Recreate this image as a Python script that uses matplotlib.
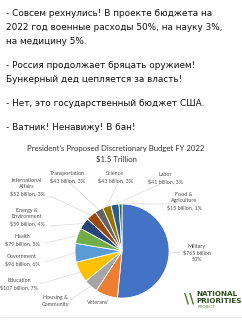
import matplotlib.pyplot as plt
import numpy as np

# данные бюджета, млрд $
categories = ['Military', "Veterans'", 'Housing &\nCommunity', 'Education', 'Government',
              'Health', 'Energy &\nEnvironment', 'International\nAffairs', 'Transportation',
              'Science', 'Labor', 'Food &\nAgriculture']
values = [765, 113, 71, 107, 96, 79, 59, 52, 43, 43, 41, 15]
labels = ['Military\n$765 billion\n50%', "Veterans'", 'Housing &\nCommunity',
          'Education\n$107 billion, 7%', 'Government\n$96 billion, 6%', 'Health\n$79 billion, 5%',
          'Energy &\nEnvironment\n$59 billion, 4%', 'International\nAffairs\n$52 billion, 3%',
          'Transportation\n$43 billion, 3%', 'Science\n$43 billion, 3%', 'Labor\n$41 billion, 3%',
          'Food &\nAgriculture\n$15 billion, 1%']
colors = ['#4472C4', '#ED7D31', '#A5A5A5', '#FFC000', '#5B9BD5', '#70AD47',
          '#264478', '#9E480E', '#636363', '#997300', '#255E91', '#43682B']

post_lines = ["- Совсем рехнулись! В проекте бюджета на",
              "2022 год военные расходы 50%, на науку 3%,",
              "на медицину 5%.",
              "- Россия продолжает бряцать оружием!",
              "Бункерный дед цепляется за власть!",
              "- Нет, это государственный бюджет США.",
              "- Ватник! Ненавижу! В бан!"]
post_y = [13, 27, 41, 65, 79, 104, 128]

W, H = 242, 320
fig = plt.figure(figsize=(W / 100, H / 100), dpi=100)
fig.patch.set_facecolor('white')


def fx(px):
    return px / W


def fy(py):
    return 1 - py / H


for line, y in zip(post_lines, post_y):
    fig.text(fx(6), fy(y), line, fontsize=6.4, family='DejaVu Sans', color='#111111',
             va='center', ha='left')

fig.text(fx(116), fy(148), "President\u2019s Proposed Discretionary Budget FY 2022",
         fontsize=5.6, family='Lato', color='#333333', ha='center', va='center')
fig.text(fx(116), fy(159), "$1.5 Trillion", fontsize=5.6, family='Lato',
         color='#333333', ha='center', va='center')

# круговая диаграмма
cx, cy, r = 122, 251, 48
ax = fig.add_axes([fx(cx - r), fy(cy + r), 2 * r / W, 2 * r / H])
wedges, _ = ax.pie(values, colors=colors, startangle=90, counterclock=False,
                   wedgeprops=dict(edgecolor='white', linewidth=0.6))
ax.set_xlim(-1.02, 1.02)
ax.set_ylim(-1.02, 1.02)
ax.set_aspect('auto')
ax.axis('off')

# позиции подписей (пиксели от верхнего левого угла)
label_pos = [(197, 253), (98, 303), (55, 301), (19, 284), (22, 260), (22, 240),
             (27, 217), (27, 187), (67, 177), (115, 177), (165, 178), (184, 201)]
line_end = [(180, 252), (98, 298), (70, 300), (40, 284), (45, 262), (45, 243),
            (50, 226), (50, 196), (70, 183), (118, 183), (160, 184), (175, 204)]

for w, lab, (lx, ly), (ex, ey) in zip(wedges, labels, label_pos, line_end):
    ang = np.deg2rad((w.theta1 + w.theta2) / 2)
    x0, y0 = np.cos(ang), np.sin(ang)
    fig.text(fx(lx), fy(ly), lab, fontsize=3.9, family='Lato', color='#505050',
             ha='center', va='center', linespacing=1.3)
    if lab == "Veterans'":
        continue
    ax.annotate('', xy=(x0, y0), xycoords='data', xytext=(fx(ex), fy(ey)),
                textcoords='figure fraction',
                arrowprops=dict(arrowstyle='-', color='#d9d9d9', lw=0.5,
                                shrinkA=0, shrinkB=0))

# логотип
fig.text(fx(184), fy(299), '\\\\', fontsize=10, fontweight='bold', color='#4f7a28',
         ha='left', va='center', family='DejaVu Sans')
fig.text(fx(196), fy(294), 'NATIONAL', fontsize=5.2, fontweight='bold', color='#2e4d1c',
         ha='left', va='center', family='DejaVu Sans')
fig.text(fx(196), fy(301), 'PRIORITIES', fontsize=5.2, fontweight='bold', color='#2e4d1c',
         ha='left', va='center', family='DejaVu Sans')
fig.text(fx(198), fy(307), 'PROJECT', fontsize=3.0, color='#6a8a50',
         ha='left', va='center', family='DejaVu Sans')

fig.add_artist(plt.Line2D([0, 1], [fy(317), fy(317)], color='#e6e6e6', lw=0.6))

fig.savefig('out.png', dpi=100, facecolor='white')
